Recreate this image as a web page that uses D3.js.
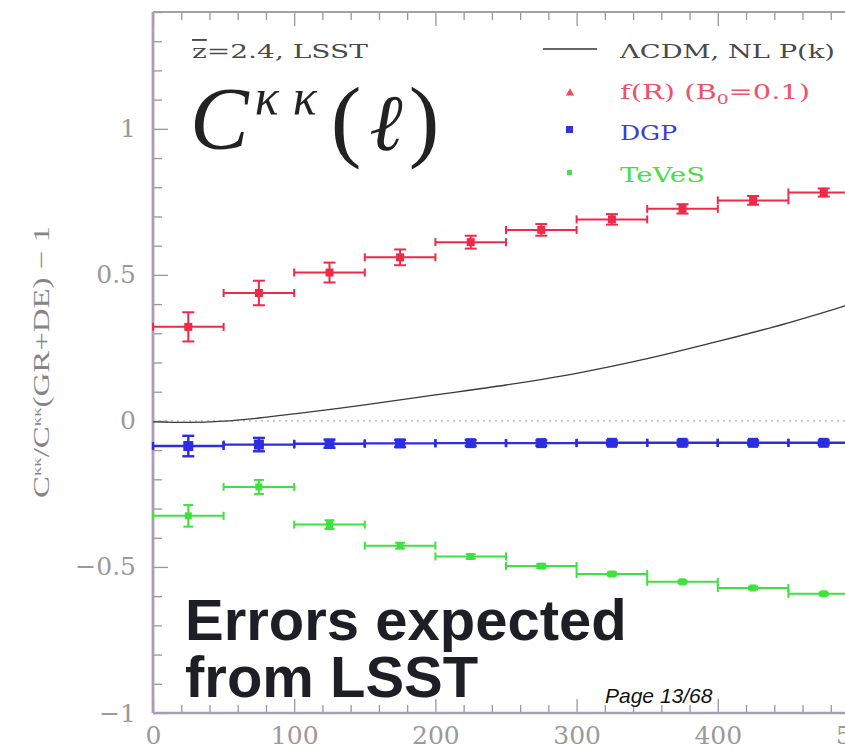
<!DOCTYPE html>
<html>
<head>
<meta charset="utf-8">
<script src="https://cdn.jsdelivr.net/npm/d3@7"></script>
<style>
  body { margin: 0; background: #fff; }
  svg { display: block; }
</style>
</head>
<body>
<svg id="chart" width="845" height="750"></svg>
<script>
// Multipole bins (centre values, half width 25)
const binCenters = [25, 75, 125, 175, 225, 275, 325, 375, 425, 475];
const binHalfWidth = 25;

// f(R) with B0 = 0.1
const fRValues = [0.322, 0.438, 0.508, 0.560, 0.612, 0.654, 0.690, 0.726, 0.755, 0.782];
const fRErrors = [0.050, 0.042, 0.034, 0.027, 0.022, 0.020, 0.018, 0.016, 0.015, 0.014];

// DGP
const dgpValues = [-0.086, -0.081, -0.078, -0.077, -0.076, -0.076, -0.075, -0.075, -0.075, -0.075];
const dgpErrors = [0.035, 0.023, 0.014, 0.012, 0.010, 0.009, 0.008, 0.008, 0.008, 0.008];

// TeVeS
const tevesValues = [-0.325, -0.226, -0.355, -0.427, -0.464, -0.497, -0.524, -0.551, -0.572, -0.592];
const tevesErrors = [0.037, 0.024, 0.015, 0.010, 0.008, 0.007, 0.006, 0.005, 0.005, 0.005];

// LCDM with non-linear P(k)
const lcdmEll = [0, 25, 50, 75, 100, 130, 160, 200, 250, 300, 350, 400, 450, 490, 500];
const lcdmValues = [-0.003, -0.005, -0.001, 0.010, 0.024, 0.042, 0.062, 0.089, 0.123, 0.163, 0.213, 0.272, 0.336, 0.394, 0.410];

const xTickLabels = [0, 100, 200, 300, 400, 500];
const yTickLabels = [-1, -0.5, 0, 0.5, 1];

const svg = d3.select("#chart");
const x = d3.scaleLinear().domain([0, 500]).range([153, 859]);
const y = d3.scaleLinear().domain([-1, 1.4]).range([713, 12]);

const serif = "'DejaVu Serif', 'Liberation Serif', serif";
const tickColor = "#9a9a9a";

// ---- axes ----
const xMinor = d3.range(0, 501, 20).filter(v => v % 100 !== 0);
const yMinor = d3.range(-10, 15, 1).map(v => v / 10).filter(v => Math.abs(v * 2 - Math.round(v * 2)) > 1e-6);

function styleAxis(g) {
  g.select(".domain").remove();
  g.selectAll(".tick line").attr("stroke", "#9a94a4").attr("stroke-width", 1.3);
}

// bottom
svg.append("g").attr("transform", `translate(0,${y(-1)})`)
  .call(d3.axisBottom(x).tickValues(xMinor).tickSize(-8).tickFormat(""))
  .call(styleAxis);
const xAxisMajor = svg.append("g").attr("transform", `translate(0,${y(-1)})`)
  .call(d3.axisBottom(x).tickValues(xTickLabels).tickSize(-14).tickPadding(13).tickFormat(d3.format("d")))
  .call(styleAxis);
xAxisMajor.selectAll("text").attr("font-family", serif).attr("font-size", 25).attr("fill", tickColor);

// top
svg.append("g").attr("transform", `translate(0,${y(1.4)})`)
  .call(d3.axisTop(x).tickValues(xMinor).tickSize(-8).tickFormat(""))
  .call(styleAxis);
svg.append("g").attr("transform", `translate(0,${y(1.4)})`)
  .call(d3.axisTop(x).tickValues(xTickLabels).tickSize(-14).tickFormat(""))
  .call(styleAxis);

// left
svg.append("g").attr("transform", `translate(${x(0)},0)`)
  .call(d3.axisLeft(y).tickValues(yMinor).tickSize(-9).tickFormat(""))
  .call(styleAxis);
const yAxisMajor = svg.append("g").attr("transform", `translate(${x(0)},0)`)
  .call(d3.axisLeft(y).tickValues(yTickLabels).tickSize(-15).tickPadding(17)
    .tickFormat(d => d === 0 ? "0" : (d < 0 ? "\u2212" : "") + Math.abs(d)))
  .call(styleAxis);
yAxisMajor.selectAll("text").attr("font-family", serif).attr("font-size", 25).attr("fill", tickColor);

// frame lines
svg.append("line").attr("x1", x(0)).attr("x2", 845).attr("y1", y(1.4)).attr("y2", y(1.4))
  .attr("stroke", "#a4a0a8").attr("stroke-width", 2.2);
svg.append("line").attr("x1", x(0)).attr("x2", 845).attr("y1", y(-1)).attr("y2", y(-1))
  .attr("stroke", "#a89cb4").attr("stroke-width", 2.4);
svg.append("line").attr("x1", x(0)).attr("x2", x(0)).attr("y1", y(1.4)).attr("y2", y(-1))
  .attr("stroke", "#ac9cbc").attr("stroke-width", 2.8);

// zero reference (dotted)
svg.append("line").attr("x1", x(0)).attr("x2", 845).attr("y1", y(0)).attr("y2", y(0))
  .attr("stroke", "#b0b0b0").attr("stroke-width", 1.1).attr("stroke-dasharray", "2,4");

// y-axis title
svg.append("text")
  .attr("transform", "translate(49,362) rotate(-90)")
  .attr("text-anchor", "middle")
  .attr("font-family", "'Liberation Serif', serif").attr("font-size", 23).attr("fill", "#858585")
  .attr("textLength", 272).attr("lengthAdjust", "spacingAndGlyphs")
  .call(t => {
    t.append("tspan").text("C");
    t.append("tspan").attr("font-size", 13).attr("dy", -8).text("\u03BA\u03BA");
    t.append("tspan").attr("dy", 8).text("/C");
    t.append("tspan").attr("font-size", 13).attr("dy", -8).text("\u03BA\u03BA");
    t.append("tspan").attr("dy", 8).text("(GR+DE)  \u2212  1");
  });

// ---- LCDM curve ----
const lcdm = lcdmEll.map((l, i) => ({ l, v: lcdmValues[i] }));
svg.append("path").datum(lcdm)
  .attr("fill", "none").attr("stroke", "#3a3a3a").attr("stroke-width", 1.3)
  .attr("d", d3.line().x(d => x(d.l)).y(d => y(d.v)).curve(d3.curveMonotoneX));

// ---- binned series with error bars ----
function drawSeries(values, errors, color, markerSize, lineWidth, capH, capV) {
  const data = binCenters.map((c, i) => ({ c, v: values[i], e: errors[i] }));
  const g = svg.append("g").attr("stroke", color).attr("stroke-width", lineWidth);
  const bin = g.selectAll("g").data(data).join("g");
  // horizontal bin extent
  bin.append("line")
    .attr("x1", d => x(d.c - binHalfWidth)).attr("x2", d => x(d.c + binHalfWidth))
    .attr("y1", d => y(d.v)).attr("y2", d => y(d.v));
  bin.append("line")
    .attr("x1", d => x(d.c - binHalfWidth)).attr("x2", d => x(d.c - binHalfWidth))
    .attr("y1", d => y(d.v) - capH).attr("y2", d => y(d.v) + capH);
  bin.append("line")
    .attr("x1", d => x(d.c + binHalfWidth)).attr("x2", d => x(d.c + binHalfWidth))
    .attr("y1", d => y(d.v) - capH).attr("y2", d => y(d.v) + capH);
  // vertical error bar
  bin.append("line")
    .attr("x1", d => x(d.c)).attr("x2", d => x(d.c))
    .attr("y1", d => y(d.v + d.e)).attr("y2", d => y(d.v - d.e));
  bin.append("line")
    .attr("x1", d => x(d.c) - capV).attr("x2", d => x(d.c) + capV)
    .attr("y1", d => y(d.v + d.e)).attr("y2", d => y(d.v + d.e));
  bin.append("line")
    .attr("x1", d => x(d.c) - capV).attr("x2", d => x(d.c) + capV)
    .attr("y1", d => y(d.v - d.e)).attr("y2", d => y(d.v - d.e));
  bin.append("rect")
    .attr("stroke", "none").attr("fill", color)
    .attr("x", d => x(d.c) - markerSize / 2).attr("y", d => y(d.v) - markerSize / 2)
    .attr("width", markerSize).attr("height", markerSize);
}

drawSeries(tevesValues, tevesErrors, "#3ee23e", 7, 2, 4, 5);
drawSeries(dgpValues, dgpErrors, "#2c2ce0", 10, 2.4, 4, 6);
drawSeries(fRValues, fRErrors, "#ee2a48", 8, 2, 4, 6);

// ---- legend ----
svg.append("line").attr("x1", 543).attr("x2", 597).attr("y1", 49).attr("y2", 49)
  .attr("stroke", "#333").attr("stroke-width", 1.3);
svg.append("path").attr("d", d3.symbol(d3.symbolTriangle, 30)())
  .attr("transform", "translate(570,93)").attr("fill", "#ee4a60");
svg.append("rect").attr("x", 566).attr("y", 126).attr("width", 7).attr("height", 7).attr("fill", "#3232e0");
svg.append("rect").attr("x", 567).attr("y", 170).attr("width", 5).attr("height", 5).attr("fill", "#44e044");

const legendFont = "'DejaVu Serif', serif";
svg.append("text").attr("x", 620).attr("y", 58).attr("font-family", legendFont).attr("font-size", 19)
  .attr("fill", "#4a4a4a").attr("textLength", 215).attr("lengthAdjust", "spacingAndGlyphs")
  .text("\u039BCDM, NL P(k)");
svg.append("text").attr("x", 620).attr("y", 99).attr("font-family", legendFont).attr("font-size", 20)
  .attr("fill", "#f0506a").attr("textLength", 190).attr("lengthAdjust", "spacingAndGlyphs")
  .call(t => {
    t.append("tspan").text("f(R) (B");
    t.append("tspan").attr("font-size", 13).attr("dy", 5).text("0");
    t.append("tspan").attr("dy", -5).text("=0.1)");
  });
svg.append("text").attr("x", 620).attr("y", 140).attr("font-family", legendFont).attr("font-size", 20)
  .attr("fill", "#3c3cdc").attr("textLength", 57).attr("lengthAdjust", "spacingAndGlyphs").text("DGP");
svg.append("text").attr("x", 620).attr("y", 182).attr("font-family", legendFont).attr("font-size", 20)
  .attr("fill", "#44e044").attr("textLength", 85).attr("lengthAdjust", "spacingAndGlyphs").text("TeVeS");

// ---- annotations ----
svg.append("text").attr("x", 192).attr("y", 58).attr("font-family", legendFont).attr("font-size", 19)
  .attr("fill", "#4a4a4a").attr("textLength", 176).attr("lengthAdjust", "spacingAndGlyphs")
  .call(t => {
    t.append("tspan").attr("text-decoration", "overline").text("z");
    t.append("tspan").text("=2.4, LSST");
  });

svg.append("text").attr("x", 190).attr("y", 148)
  .attr("font-family", "'Liberation Serif', serif").attr("fill", "#222")
  .call(t => {
    t.append("tspan").attr("font-size", 88).attr("font-style", "italic").text("C");
    t.append("tspan").attr("font-size", 50).attr("font-style", "italic").attr("dy", -34)
      .attr("dx", 6).attr("letter-spacing", 14).text("\u03BA\u03BA");
    t.append("tspan").attr("font-size", 92).attr("dy", 36).attr("dx", 0).text("(");
    t.append("tspan").attr("font-size", 80).attr("font-style", "italic").attr("dx", 8).text("\u2113");
    t.append("tspan").attr("font-size", 92).attr("dx", 6).text(")");
  });

svg.append("text").attr("x", 185).attr("y", 640)
  .attr("font-family", "'Liberation Sans', Arial, sans-serif").attr("font-weight", "bold")
  .attr("font-size", 58).attr("fill", "#1e1e26").text("Errors expected");
svg.append("text").attr("x", 185).attr("y", 697)
  .attr("font-family", "'Liberation Sans', Arial, sans-serif").attr("font-weight", "bold")
  .attr("font-size", 58).attr("fill", "#1e1e26").text("from LSST");

svg.append("text").attr("x", 605).attr("y", 703)
  .attr("font-family", "'Liberation Sans', Arial, sans-serif").attr("font-style", "italic")
  .attr("font-size", 21).attr("fill", "#111").text("Page 13/68");
</script>
</body>
</html>
